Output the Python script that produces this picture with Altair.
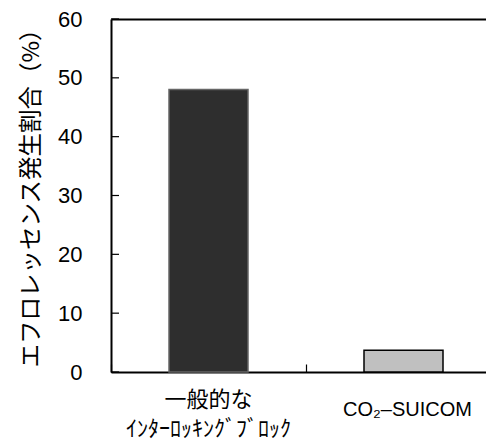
import altair as alt
import pandas as pd

categories = ["一般的な|ｲﾝﾀｰﾛｯｷﾝｸﾞﾌﾞﾛｯｸ", "CO₂–SUICOM"]
values = [48.0, 3.7]
fills = ["#2e2e2e", "#c0c0c0"]
strokes = ["#666666", "#000000"]
y_ticks = [0, 10, 20, 30, 40, 50, 60]
y_title = "エフロレッセンス発生割合（%）"

df = pd.DataFrame({"cat": categories, "val": values, "fill": fills, "stroke": strokes})
ticks_df = pd.DataFrame({"val": y_ticks})

x_scale = alt.Scale(range=[0, 390], paddingInner=0, paddingOuter=0)
y_scale = alt.Scale(domain=[0, 60], nice=False)
is_co2 = "indexof(datum.value, 'CO') == 0"

y_axis = alt.Axis(
    orient="left",
    values=y_ticks,
    ticks=False,
    grid=False,
    labelPadding=29,
    labelFont="Liberation Sans",
    labelFontSize=22,
    labelColor="black",
    domainColor="black",
    domainWidth=2,
    titleFont="Noto Sans CJK JP",
    titleFontSize=23.5,
    titleFontWeight="normal",
    titleColor="black",
    titleX=-80,
    titleY=173,
    titleAngle=270,
    titleBaseline="middle",
    titleAlign="center",
)
y_enc = alt.Y("val:Q", title=y_title, scale=y_scale, axis=y_axis)

base = alt.Chart(df)

bars = base.mark_bar(size=79, strokeWidth=1.5).encode(
    x=alt.X(
        "cat:N",
        sort=categories,
        title=None,
        scale=x_scale,
        axis=alt.Axis(
            orient="bottom",
            labelExpr="split(datum.label, '|')",
            labelAngle=0,
            ticks=False,
            grid=False,
            domainColor="black",
            domainWidth=2,
            labelPadding=27,
            labelBaseline={"condition": {"test": is_co2, "value": "top"}, "value": "middle"},
            labelOffset={"condition": {"test": is_co2, "value": 4}, "value": 0},
            labelLineHeight=29,
            labelLimit=0,
            labelFont="Liberation Sans, Noto Sans CJK JP",
            labelFontSize={"condition": {"test": is_co2, "value": 20}, "value": 22},
            labelColor="black",
        ),
    ),
    y=y_enc,
    fill=alt.Fill("fill:N", scale=None),
    stroke=alt.Stroke("stroke:N", scale=None),
)

inner_ticks = base.mark_bar(size=79, opacity=0).encode(
    x=alt.X(
        "cat:N",
        sort=categories,
        title=None,
        scale=x_scale,
        axis=alt.Axis(
            orient="top",
            offset=-353,
            labels=False,
            domain=False,
            grid=False,
            tickBand="extent",
            tickSize=8,
            tickColor="black",
            tickWidth=1.2,
        ),
    ),
    y=y_enc,
)

top_border = base.mark_bar(size=79, opacity=0).encode(
    x=alt.X(
        "cat:N",
        sort=categories,
        title=None,
        scale=x_scale,
        axis=alt.Axis(
            orient="top",
            labels=False,
            ticks=False,
            grid=False,
            domainColor="black",
            domainWidth=2,
        ),
    ),
    y=y_enc,
)

y_inner_ticks = alt.Chart(ticks_df).mark_tick(
    orient="horizontal", color="black", thickness=1.2, size=8, opacity=1
).encode(
    x=alt.value(4),
    y=y_enc,
)

chart = alt.layer(bars, inner_ticks, top_border, y_inner_ticks).resolve_axis(
    x="independent"
).properties(
    width=375,
    height=353,
    autosize=alt.AutoSizeParams(type="none"),
    padding={"left": 103, "top": 11, "right": 0, "bottom": 74},
).configure_view(stroke="transparent")

chart.save("out.html", embed_options={"renderer": "svg", "actions": False})
